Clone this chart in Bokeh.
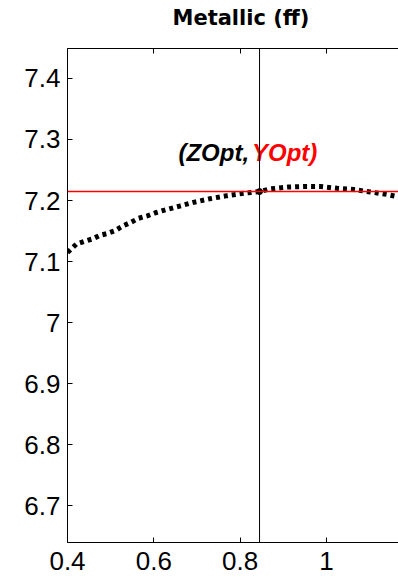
from bokeh.plotting import figure
from bokeh.models import (Range1d, LinearAxis, FixedTicker, Span, Title,
                          CustomLabelingPolicy)
from bokeh.core.properties import value
from bokeh.embed import file_html
from bokeh.resources import INLINE

# Metallic (ff) response curve
z_vals = [0.400, 0.421, 0.438, 0.457, 0.475, 0.492, 0.511, 0.530, 0.546, 0.565,
          0.585, 0.604, 0.623, 0.660, 0.692, 0.730, 0.770, 0.810, 0.845, 0.870,
          0.910, 0.947, 0.986, 1.025, 1.063, 1.102, 1.140, 1.167, 1.200]
y_vals = [7.115, 7.129, 7.133, 7.137, 7.143, 7.146, 7.151, 7.159, 7.164, 7.171,
          7.175, 7.180, 7.184, 7.191, 7.197, 7.203, 7.208, 7.212, 7.2147, 7.219,
          7.222, 7.223, 7.223, 7.220, 7.218, 7.214, 7.210, 7.206, 7.202]

z_opt = 0.845
y_opt = 7.2147

x_ticks = [0.4, 0.6, 0.8, 1.0]
x_tick_labels = {0.4: "0.4", 0.6: "0.6", 0.8: "0.8", 1.0: "1"}
y_ticks = [6.7, 6.8, 6.9, 7.0, 7.1, 7.2, 7.3, 7.4]
y_tick_labels = {6.7: "6.7", 6.8: "6.8", 6.9: "6.9", 7.0: "7", 7.1: "7.1",
                 7.2: "7.2", 7.3: "7.3", 7.4: "7.4"}

title_text = "Metallic (ff)"
label_left = "(ZOpt,"
label_right = "YOpt)"
label_left_x, label_right_x, label_y = 0.657, 0.8276, 7.278

TICK_FONT = "Liberation Sans"

p = figure(width=398, height=581, output_backend="svg", toolbar_location=None,
           x_range=Range1d(0.4, 1.167), y_range=Range1d(6.64, 7.449),
           min_border_left=67, min_border_right=0, min_border_top=48,
           min_border_bottom=39, x_axis_location=None, y_axis_location=None,
           background_fill_color="white", border_fill_color="white",
           outline_line_color=None)
p.grid.visible = False

def style_axis(ax, ticks, labels):
    ax.ticker = FixedTicker(ticks=ticks)
    ax.major_label_overrides = labels
    ax.major_tick_in = 5
    ax.major_tick_out = 0
    ax.minor_tick_line_color = None
    ax.axis_line_color = "black"
    ax.axis_line_width = 1
    ax.major_tick_line_color = "black"
    ax.major_label_text_font = TICK_FONT
    ax.major_label_text_font_size = "26px"
    ax.major_label_text_color = "black"
    ax.major_label_standoff = 7

left = LinearAxis()
style_axis(left, y_ticks, y_tick_labels)
p.add_layout(left, "left")

bottom = LinearAxis()
style_axis(bottom, x_ticks, x_tick_labels)
bottom.major_label_standoff = 9
p.add_layout(bottom, "below")

# box edge along the top, ticks only
top = LinearAxis()
style_axis(top, x_ticks, x_tick_labels)
top.major_label_standoff = 0
top.major_label_policy = CustomLabelingPolicy(code="return new Set()")
p.add_layout(top, "above")

# title with an empty trailing line to lift it away from the box
p.add_layout(Title(text=title_text + "\n", align="left", offset=105,
                   vertical_align="bottom", standoff=0,
                   text_font="DejaVu Sans", text_font_size="21px",
                   text_font_style="bold", text_color="black",
                   text_line_height=-0.1), "above")

# optimum markers
p.add_layout(Span(location=z_opt, dimension="height", line_color="black", line_width=1))
p.add_layout(Span(location=y_opt, dimension="width", line_color="red", line_width=1.5))

p.line(z_vals, y_vals, line_color="black", line_width=5, line_dash="4 4",
       line_cap="butt")
p.scatter([z_opt], [y_opt], size=6, color="black")

p.text([label_left_x], [label_y], text=[label_left], text_font=value("Liberation Sans"),
       text_font_size="24px", text_font_style="bold italic", text_color="black",
       text_baseline="alphabetic", text_align="left")
p.text([label_right_x], [label_y], text=[label_right], text_font=value("Liberation Sans"),
       text_font_size="24px", text_font_style="bold italic", text_color="red",
       text_baseline="alphabetic", text_align="left")

open("out.html", "w").write(file_html(p, INLINE))
